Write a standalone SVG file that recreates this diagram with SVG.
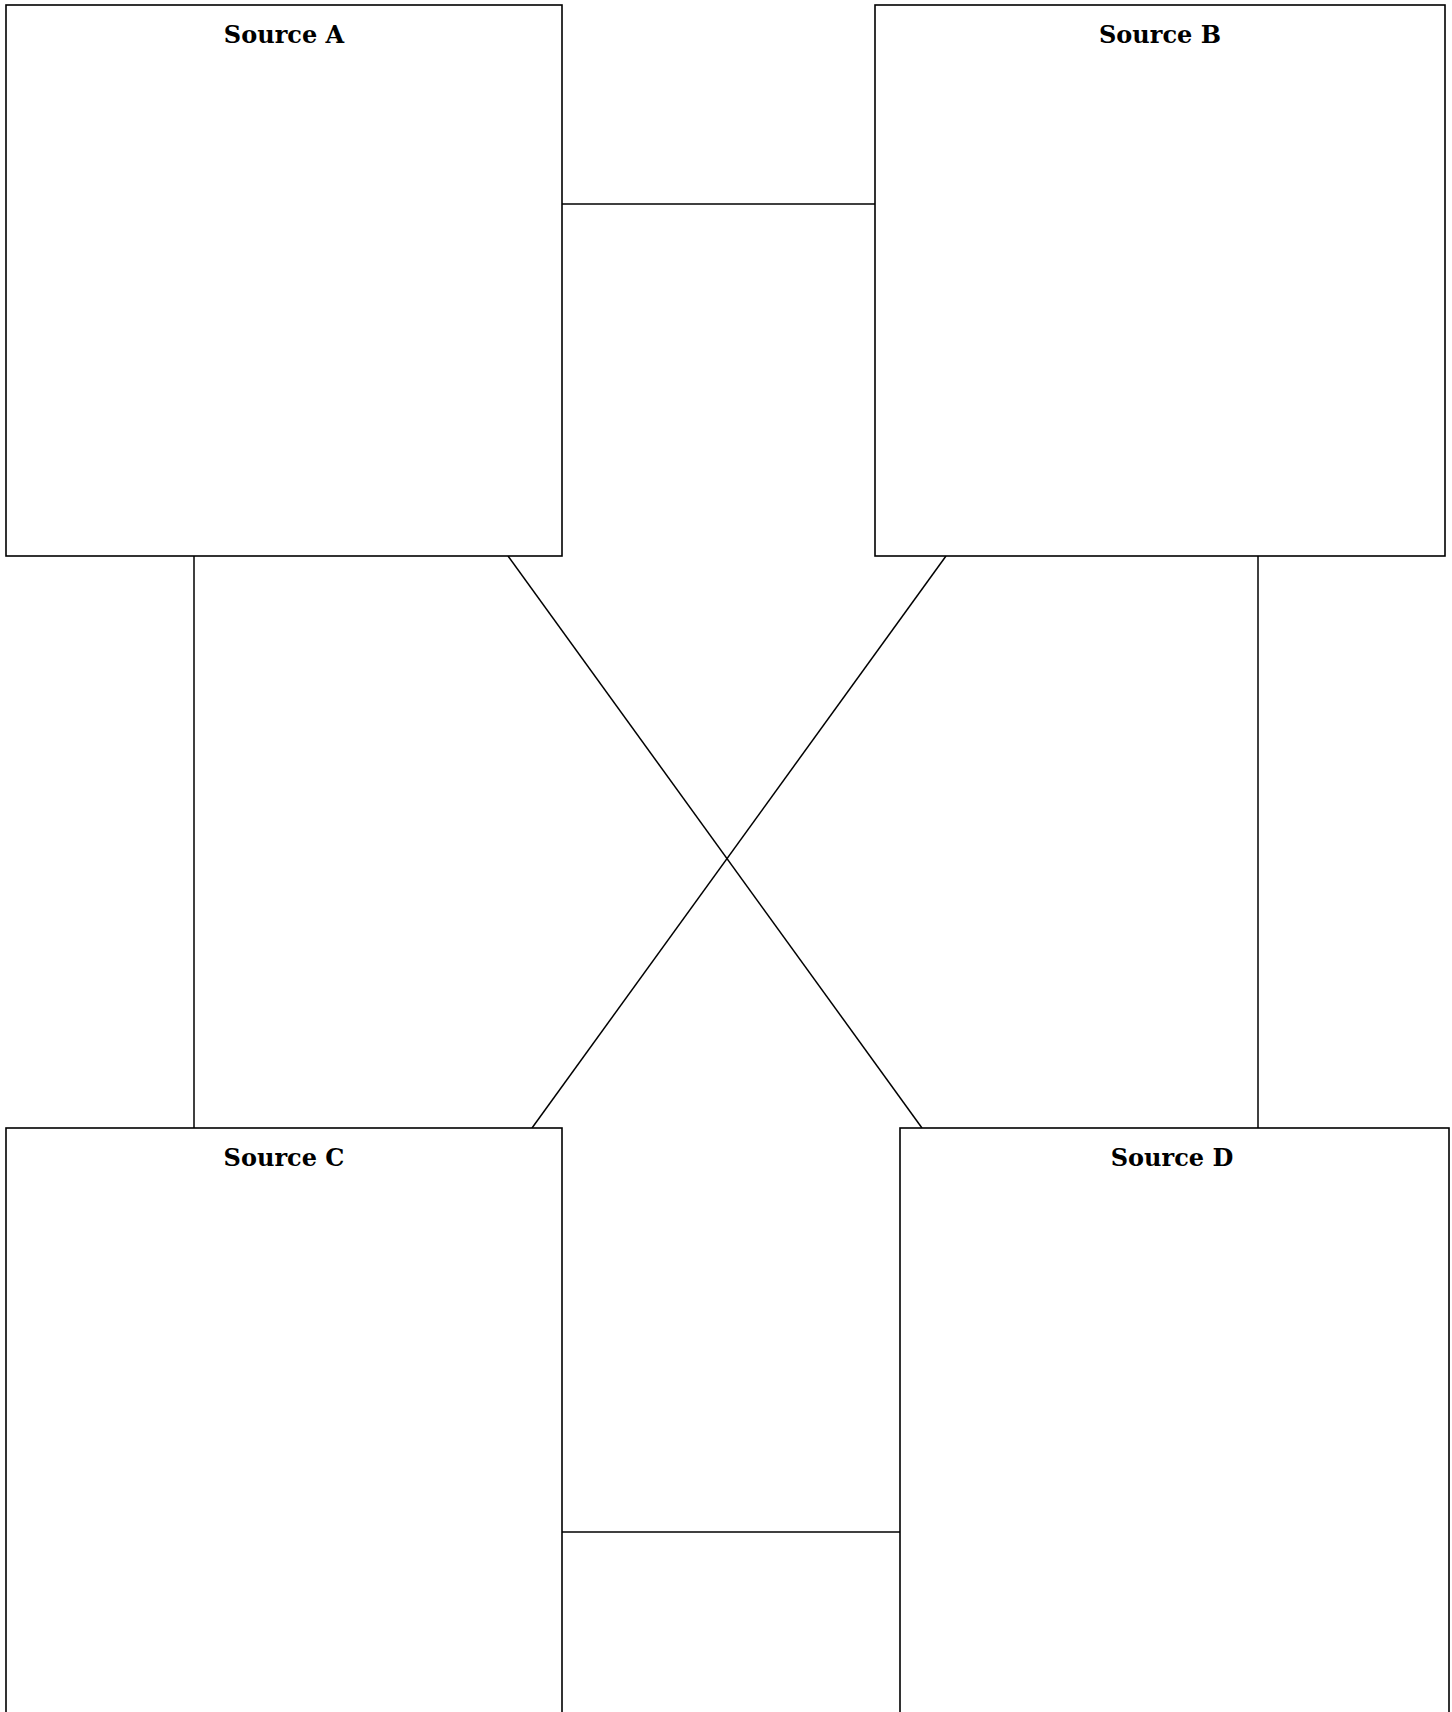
<svg xmlns="http://www.w3.org/2000/svg" width="1452" height="1712" viewBox="0 0 1452 1712">
<style>
.box{fill:#fff;stroke:#000;stroke-width:1.6}
.lbl{font-family:"DejaVu Serif","Liberation Serif",serif;font-weight:bold;font-size:24px;text-anchor:middle;fill:#000}
.conn line{stroke:#000;stroke-width:1.5}
</style>
<rect width="1452" height="1712" fill="#fff"/>
<g class="conn" id="connectors">
<line x1="562" y1="204" x2="875" y2="204"/>
<line x1="194" y1="556" x2="194" y2="1128"/>
<line x1="1258" y1="556" x2="1258" y2="1128"/>
<line x1="508" y1="556" x2="922" y2="1128"/>
<line x1="946" y1="556" x2="532" y2="1128"/>
<line x1="562" y1="1532" x2="900" y2="1532"/>
</g>
<g id="sourceA"><rect class="box" x="6" y="5" width="556" height="551"/><text class="lbl" x="284" y="43">Source A</text></g>
<g id="sourceB"><rect class="box" x="875" y="5" width="570" height="551"/><text class="lbl" x="1160" y="43">Source B</text></g>
<g id="sourceC"><rect class="box" x="6" y="1128" width="556" height="600"/><text class="lbl" x="284" y="1166">Source C</text></g>
<g id="sourceD"><rect class="box" x="900" y="1128" width="549" height="600"/><text class="lbl" x="1172" y="1166">Source D</text></g>
</svg>
